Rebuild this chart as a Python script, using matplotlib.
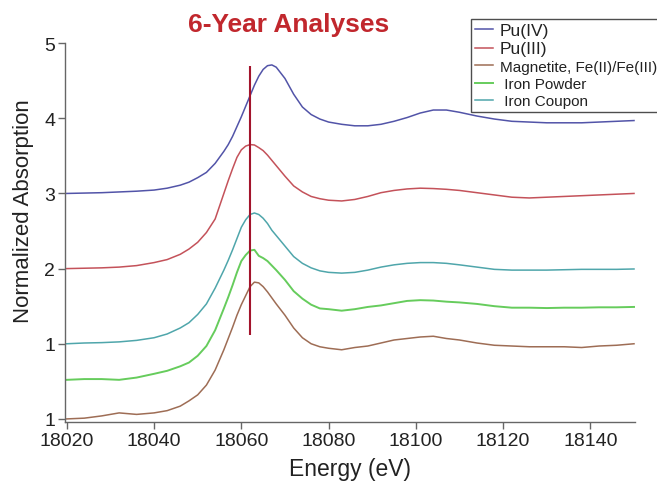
import matplotlib
matplotlib.use("Agg")
import matplotlib.pyplot as plt

plt.rcParams['font.family'] = ['Liberation Sans', 'DejaVu Sans']

# energy grid (eV), denser around the edge
energy = [18020, 18024, 18028, 18032, 18036, 18040, 18043, 18046, 18048, 18050,
          18052, 18054, 18056, 18057, 18058, 18059, 18060, 18061, 18062, 18063,
          18064, 18065, 18066, 18067, 18068, 18070, 18072, 18074, 18076, 18078,
          18080, 18083, 18086, 18089, 18092, 18095, 18098, 18101, 18104, 18107,
          18110, 18114, 18118, 18122, 18126, 18130, 18134, 18138, 18142, 18146,
          18150]

pu4 = [3.00, 3.005, 3.01, 3.02, 3.03, 3.045, 3.07, 3.11, 3.15, 3.21,
       3.28, 3.40, 3.56, 3.65, 3.76, 3.89, 4.02, 4.16, 4.30, 4.44,
       4.56, 4.65, 4.70, 4.71, 4.68, 4.53, 4.32, 4.15, 4.05, 3.99,
       3.95, 3.92, 3.90, 3.90, 3.92, 3.96, 4.01, 4.07, 4.11, 4.11,
       4.08, 4.03, 3.99, 3.96, 3.95, 3.94, 3.94, 3.94, 3.95, 3.96,
       3.97]

pu3 = [2.00, 2.005, 2.01, 2.02, 2.04, 2.08, 2.12, 2.19, 2.26, 2.35,
       2.48, 2.66, 3.00, 3.17, 3.33, 3.48, 3.58, 3.63, 3.65, 3.645,
       3.61, 3.57, 3.51, 3.44, 3.37, 3.23, 3.10, 3.02, 2.96, 2.93,
       2.91, 2.90, 2.92, 2.96, 3.01, 3.04, 3.06, 3.07, 3.065, 3.055,
       3.04, 3.01, 2.98, 2.95, 2.94, 2.95, 2.96, 2.97, 2.98, 2.99,
       3.00]

magnetite = [0.00, 0.01, 0.04, 0.08, 0.06, 0.08, 0.11, 0.17, 0.24, 0.32,
             0.45, 0.65, 0.92, 1.07, 1.22, 1.38, 1.52, 1.64, 1.76, 1.82,
             1.81, 1.76, 1.69, 1.61, 1.53, 1.38, 1.21, 1.08, 1.00, 0.96,
             0.94, 0.92, 0.95, 0.97, 1.01, 1.05, 1.07, 1.09, 1.10, 1.07,
             1.05, 1.01, 0.98, 0.97, 0.96, 0.96, 0.96, 0.95, 0.97, 0.98,
             1.00]

iron_powder = [0.52, 0.53, 0.53, 0.52, 0.55, 0.60, 0.64, 0.70, 0.75, 0.84,
               0.97, 1.18, 1.47, 1.62, 1.78, 1.95, 2.10, 2.18, 2.24, 2.25,
               2.17, 2.14, 2.10, 2.04, 1.98, 1.85, 1.70, 1.60, 1.52, 1.47,
               1.46, 1.44, 1.46, 1.49, 1.51, 1.54, 1.57, 1.58, 1.575, 1.56,
               1.55, 1.53, 1.50, 1.48, 1.48, 1.475, 1.48, 1.48, 1.485, 1.485,
               1.49]

iron_coupon = [1.00, 1.01, 1.015, 1.025, 1.045, 1.08, 1.13, 1.21, 1.28, 1.39,
               1.53, 1.74, 1.98, 2.11, 2.25, 2.40, 2.55, 2.65, 2.72, 2.74,
               2.72, 2.67, 2.60, 2.51, 2.44, 2.30, 2.16, 2.07, 2.01, 1.97,
               1.95, 1.94, 1.95, 1.98, 2.02, 2.05, 2.07, 2.08, 2.08, 2.07,
               2.05, 2.02, 1.99, 1.98, 1.98, 1.98, 1.985, 1.99, 1.99, 1.99,
               1.995]

edge_energy = 18062
edge_span = [1.12, 4.69]

ytick_vals = [0, 1, 2, 3, 4, 5]
ytick_labels = ['1', '1', '2', '3', '4', '5']
xtick_vals = [18020, 18040, 18060, 18080, 18100, 18120, 18140]

fig = plt.figure(figsize=(6.57, 4.85), dpi=100)
ax = fig.add_axes([0.099, 0.128, 0.868, 0.781])

lw = 1.1
l1, = ax.plot(energy, pu4, color='#5254a8', lw=lw, label='Pu(IV)')
l2, = ax.plot(energy, pu3, color='#c4525a', lw=lw, label='Pu(III)')
l3, = ax.plot(energy, magnetite, color='#9e6d55', lw=lw, label='Magnetite, Fe(II)/Fe(III)')
l4, = ax.plot(energy, iron_powder, color='#66cc5c', lw=1.4, label=' Iron Powder')
l5, = ax.plot(energy, iron_coupon, color='#4fa6ab', lw=lw, label=' Iron Coupon')

ax.vlines(edge_energy, edge_span[0], edge_span[1], color='#a3142c', lw=1.5)

ax.set_xlim(18019.6, 18150.3)
ax.set_ylim(-0.04, 5.0)
ax.set_xticks(xtick_vals)
ax.set_yticks(ytick_vals)
ax.set_yticklabels(ytick_labels)
ax.tick_params(labelsize=14, length=5, width=1, color='#666666', labelcolor='#222222', pad=2)

for side in ['top', 'right']:
    ax.spines[side].set_visible(False)
for side in ['left', 'bottom']:
    ax.spines[side].set_color('#666666')
    ax.spines[side].set_linewidth(1.0)

ax.set_xlabel('Energy (eV)', fontsize=16.5, color='#222222', labelpad=6)
fig.text(0.036, 0.565, 'Normalized Absorption', rotation=90, fontsize=16,
         color='#222222', ha='center', va='center')

fig.text(0.439, 0.948, '6-Year Analyses', fontsize=19, fontweight='bold',
         color='#c1272d', ha='center', va='center')

leg = fig.legend(handles=[l1, l2, l3, l4, l5], loc='upper left',
                 bbox_to_anchor=(471 / 657, 1 - 20 / 485), fontsize=11,
                 frameon=True, fancybox=False, borderaxespad=0, borderpad=0.25,
                 labelspacing=0.22, handlelength=1.2, handletextpad=0.45)
leg.get_frame().set_edgecolor('#222222')
leg.get_frame().set_linewidth(1.0)
for i, t in enumerate(leg.get_texts()):
    t.set_color('#222222')
    if i < 2:
        t.set_fontsize(12.5)

fig.savefig('out.png', dpi=100)
